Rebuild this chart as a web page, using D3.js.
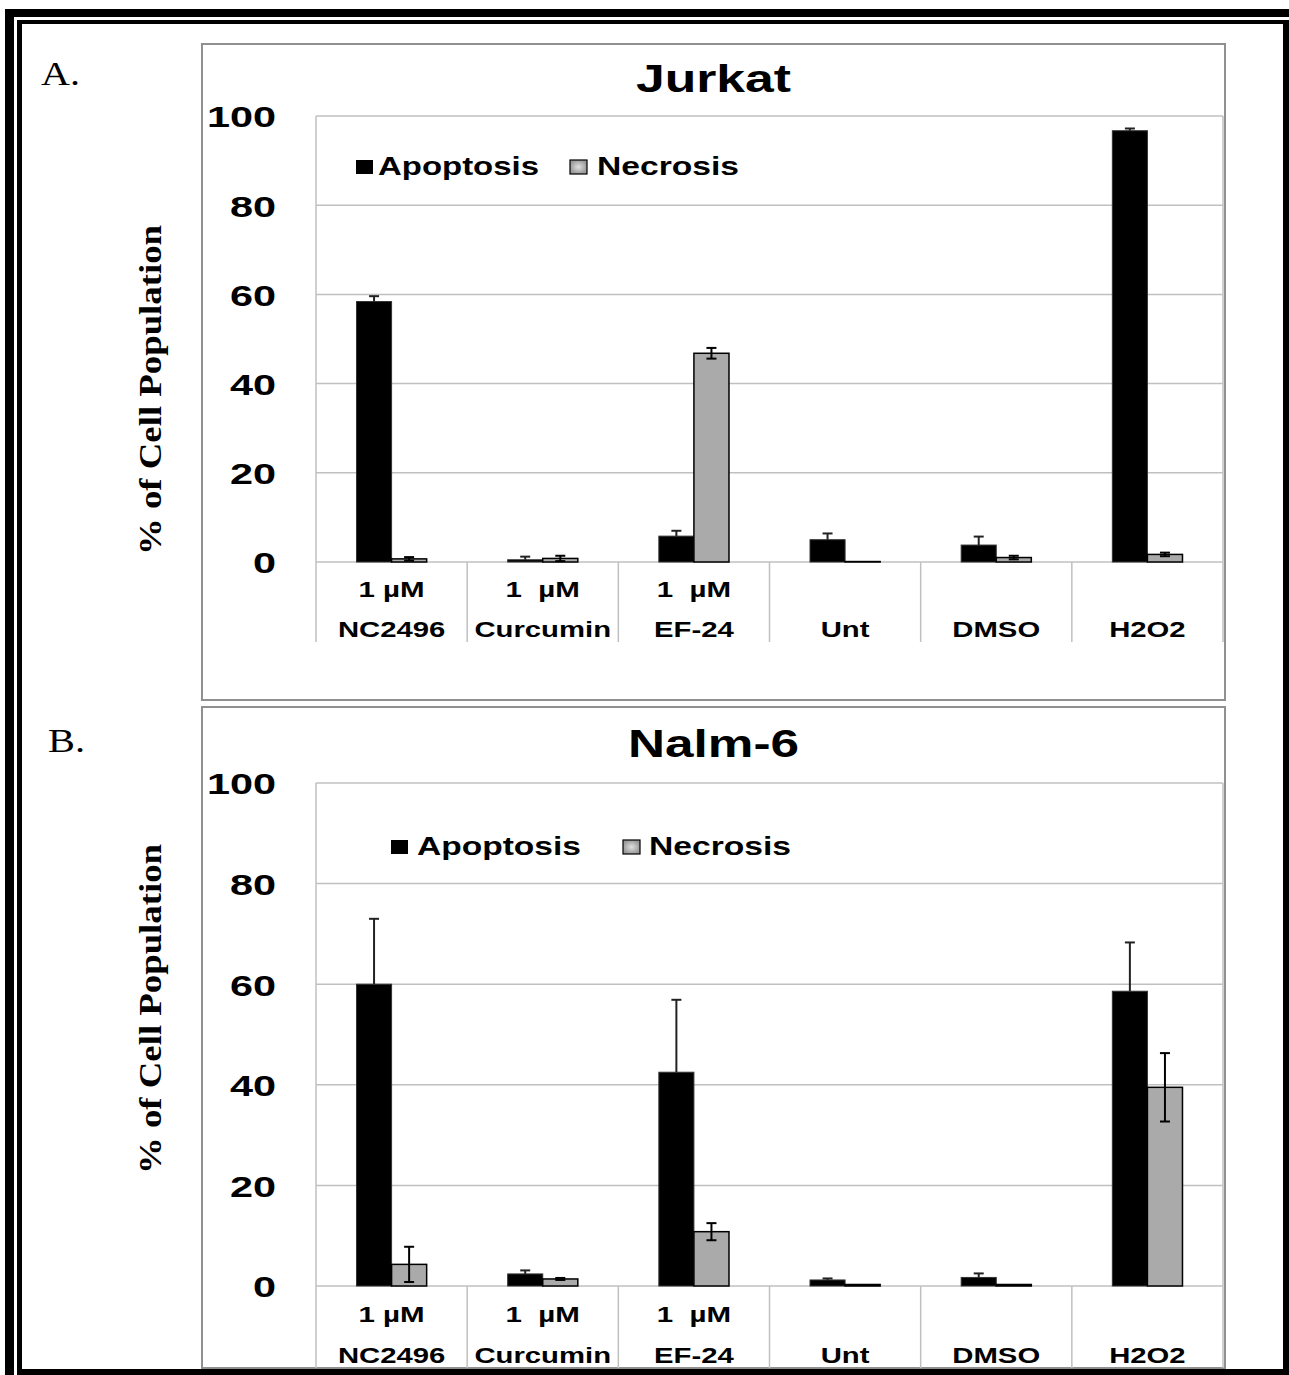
<!DOCTYPE html>
<html>
<head>
<meta charset="utf-8">
<script src="https://cdn.jsdelivr.net/npm/d3@7"></script>
<style>
  body { margin: 0; background: #fff; }
  svg { display: block; }
  text { white-space: pre; }
</style>
</head>
<body>
<script>
// ---------------- DATA ----------------
const categories = ["NC2496", "Curcumin", "EF-24", "Unt", "DMSO", "H2O2"];
const doseLabels = ["1 µM", "1  µM", "1  µM", "", "", ""];
const seriesNames = ["Apoptosis", "Necrosis"];
const yTicks = [0, 20, 40, 60, 80, 100];

const jurkatApoptosis    = [58.4, 0.5, 5.8, 5.0, 3.8, 96.7];
const jurkatApoptosisErr = [1.2, 0.7, 1.2, 1.4, 1.9, 0.5];
const jurkatNecrosis     = [0.7, 0.8, 46.8, 0.1, 1.0, 1.7];
const jurkatNecrosisErr  = [0.4, 0.6, 1.2, 0.0, 0.4, 0.4];

const nalmApoptosis    = [60.0, 2.4, 42.5, 1.2, 1.7, 58.6];
const nalmApoptosisErr = [13.0, 0.7, 14.4, 0.3, 0.8, 9.7];
const nalmNecrosis     = [4.3, 1.4, 10.8, 0.3, 0.3, 39.5];
const nalmNecrosisErr  = [3.5, 0.2, 1.7, 0.0, 0.0, 6.8];

// ---------------- LAYOUT ----------------
const W = 1289, H = 1375;
const panels = [
  { title: "Jurkat", letter: "A.", letterX: 41, letterY: 85, letterW: 39,
    box: [202, 44, 1225, 700], top: 116, bottom: 562, left: 316, right: 1223,
    divBottom: 642, doseY: 597, nameY: 637, titleY: 92, titleW: 155, yTitleCY: 390,
    legY: 175, legSq1: 356, legT1: 378, legW1: 161, legSq2: 570, legT2: 597, legW2: 142,
    apop: jurkatApoptosis, apopErr: jurkatApoptosisErr, nec: jurkatNecrosis, necErr: jurkatNecrosisErr },
  { title: "Nalm-6", letter: "B.", letterX: 48, letterY: 752, letterW: 37,
    box: [202, 707, 1225, 1368], top: 783, bottom: 1286, left: 316, right: 1223,
    divBottom: 1368, doseY: 1322, nameY: 1363, titleY: 757, titleW: 171, yTitleCY: 1009,
    legY: 855, legSq1: 391, legT1: 417, legW1: 164, legSq2: 623, legT2: 649, legW2: 142,
    apop: nalmApoptosis, apopErr: nalmApoptosisErr, nec: nalmNecrosis, necErr: nalmNecrosisErr }
];

const SANS = "'Liberation Sans', Arial, sans-serif";
const SERIF = "'Liberation Serif', 'Times New Roman', serif";
const GRID = "#c0c0c0";
const NEC_FILL = "#aaaaaa";

const svg = d3.select("body").append("svg").attr("width", W).attr("height", H);

const defs = svg.append("defs");
const rg = defs.append("radialGradient").attr("id", "legGray");
rg.append("stop").attr("offset", "0%").attr("stop-color", "#e0e0e0");
rg.append("stop").attr("offset", "100%").attr("stop-color", "#9a9a9a");

function stretch(sel, factor) {
  sel.each(function () {
    const len = this.getComputedTextLength();
    d3.select(this).attr("textLength", len * factor).attr("lengthAdjust", "spacingAndGlyphs");
  });
}
function fitTo(sel, w) {
  sel.attr("textLength", w).attr("lengthAdjust", "spacingAndGlyphs");
}

// ---------------- OUTER FRAME ----------------
svg.append("rect").attr("x", 5).attr("y", 9).attr("width", 1284).attr("height", 8).attr("fill", "#000");
svg.append("rect").attr("x", 5).attr("y", 9).attr("width", 9).attr("height", 1366).attr("fill", "#000");
svg.append("rect").attr("x", 17).attr("y", 20).attr("width", 1272).attr("height", 4).attr("fill", "#000");
svg.append("rect").attr("x", 17).attr("y", 20).attr("width", 5).attr("height", 1355).attr("fill", "#000");
svg.append("rect").attr("x", 1283).attr("y", 20).attr("width", 6).attr("height", 1355).attr("fill", "#000");
svg.append("rect").attr("x", 17).attr("y", 1369).attr("width", 1272).attr("height", 6).attr("fill", "#000");

// ---------------- PANELS ----------------
panels.forEach(p => {
  const g = svg.append("g");
  const [bx0, by0, bx1, by1] = p.box;

  g.append("rect").attr("x", bx0).attr("y", by0).attr("width", bx1 - bx0).attr("height", by1 - by0)
    .attr("fill", "#fff").attr("stroke", "#909090").attr("stroke-width", 2);

  const x = d3.scaleBand().domain(categories).range([p.left, p.right]).padding(0);
  const y = d3.scaleLinear().domain([0, 100]).range([p.bottom, p.top]);
  const bw = x.bandwidth() * 0.232;

  g.selectAll(".grid").data(yTicks).join("line")
    .attr("x1", p.left).attr("x2", p.right)
    .attr("y1", d => y(d)).attr("y2", d => y(d))
    .attr("stroke", GRID).attr("stroke-width", 1.5);

  g.append("line").attr("x1", p.left).attr("x2", p.left).attr("y1", y(100)).attr("y2", p.divBottom)
    .attr("stroke", GRID).attr("stroke-width", 1.5);
  g.append("line").attr("x1", p.right).attr("x2", p.right).attr("y1", y(100)).attr("y2", p.divBottom)
    .attr("stroke", GRID).attr("stroke-width", 1.5);

  g.selectAll(".div").data(categories.slice(1)).join("line")
    .attr("x1", d => x(d)).attr("x2", d => x(d))
    .attr("y1", y(0)).attr("y2", p.divBottom)
    .attr("stroke", GRID).attr("stroke-width", 1.5);

  const yAxis = d3.axisLeft(y).tickValues(yTicks).tickSize(0).tickPadding(40);
  const ag = g.append("g").attr("transform", `translate(${p.left},0)`).call(yAxis);
  ag.select(".domain").remove();
  ag.selectAll("text")
    .attr("font-family", SANS).attr("font-weight", "bold").attr("font-size", 30)
    .attr("fill", "#000").attr("dy", "0.36em");
  stretch(ag.selectAll("text"), 1.38);

  const cx = c => x(c) + x.bandwidth() / 2;
  g.selectAll(".apop").data(categories).join("rect")
    .attr("x", d => cx(d) - bw).attr("width", bw)
    .attr("y", (d, i) => y(p.apop[i])).attr("height", (d, i) => y(0) - y(p.apop[i]))
    .attr("fill", "#000").attr("stroke", "#333").attr("stroke-width", 1);
  g.selectAll(".nec").data(categories).join("rect")
    .attr("x", d => cx(d)).attr("width", bw)
    .attr("y", (d, i) => y(p.nec[i])).attr("height", (d, i) => y(0) - y(p.nec[i]))
    .attr("fill", NEC_FILL).attr("stroke", "#000").attr("stroke-width", 1.5);

  categories.forEach((c, i) => {
    const ex = cx(c) - bw / 2;
    const v = p.apop[i], e = p.apopErr[i];
    if (e > 0) {
      g.append("line").attr("x1", ex).attr("x2", ex).attr("y1", y(v)).attr("y2", y(v + e))
        .attr("stroke", "#222").attr("stroke-width", 2);
      g.append("line").attr("x1", ex - 5).attr("x2", ex + 5).attr("y1", y(v + e)).attr("y2", y(v + e))
        .attr("stroke", "#222").attr("stroke-width", 2);
    }
    const nx = cx(c) + bw / 2;
    const nv = p.nec[i], ne = p.necErr[i];
    if (ne > 0) {
      g.append("line").attr("x1", nx).attr("x2", nx).attr("y1", y(Math.max(0, nv - ne))).attr("y2", y(nv + ne))
        .attr("stroke", "#000").attr("stroke-width", 2);
      [nv + ne, Math.max(0, nv - ne)].forEach(vv => {
        g.append("line").attr("x1", nx - 5).attr("x2", nx + 5).attr("y1", y(vv)).attr("y2", y(vv))
          .attr("stroke", "#000").attr("stroke-width", 2);
      });
    }
  });

  g.selectAll(".dose").data(categories).join("text")
    .attr("x", d => cx(d)).attr("y", p.doseY).attr("text-anchor", "middle")
    .attr("font-family", SANS).attr("font-weight", "bold").attr("font-size", 22)
    .text((d, i) => doseLabels[i])
    .call(s => stretch(s.filter((d, i) => doseLabels[i] !== ""), 1.34));
  const names = g.selectAll(".name").data(categories).join("text")
    .attr("x", d => cx(d)).attr("y", p.nameY).attr("text-anchor", "middle")
    .attr("font-family", SANS).attr("font-weight", "bold").attr("font-size", 22)
    .text(d => d);
  stretch(names, 1.33);

  g.append("text").attr("x", (bx0 + bx1) / 2).attr("y", p.titleY).attr("text-anchor", "middle")
    .attr("font-family", SANS).attr("font-weight", "bold").attr("font-size", 38)
    .text(p.title).call(s => fitTo(s, p.titleW));

  g.append("text").attr("x", p.letterX).attr("y", p.letterY)
    .attr("font-family", SERIF).attr("font-size", 33)
    .text(p.letter).call(s => fitTo(s, p.letterW));

  g.append("text").attr("transform", `translate(161,${p.yTitleCY}) rotate(-90)`)
    .attr("text-anchor", "middle")
    .attr("font-family", SERIF).attr("font-weight", "bold").attr("font-size", 32)
    .text("% of Cell Population").call(s => fitTo(s, 330));

  g.append("rect").attr("x", p.legSq1).attr("y", p.legY - 15).attr("width", 17).attr("height", 14).attr("fill", "#000");
  g.append("text").attr("x", p.legT1).attr("y", p.legY)
    .attr("font-family", SANS).attr("font-weight", "bold").attr("font-size", 25)
    .text(seriesNames[0]).call(s => fitTo(s, p.legW1));
  g.append("rect").attr("x", p.legSq2).attr("y", p.legY - 15).attr("width", 17).attr("height", 14)
    .attr("fill", "url(#legGray)").attr("stroke", "#000").attr("stroke-width", 1.2);
  g.append("text").attr("x", p.legT2).attr("y", p.legY)
    .attr("font-family", SANS).attr("font-weight", "bold").attr("font-size", 25)
    .text(seriesNames[1]).call(s => fitTo(s, p.legW2));
});
</script>
</body>
</html>
